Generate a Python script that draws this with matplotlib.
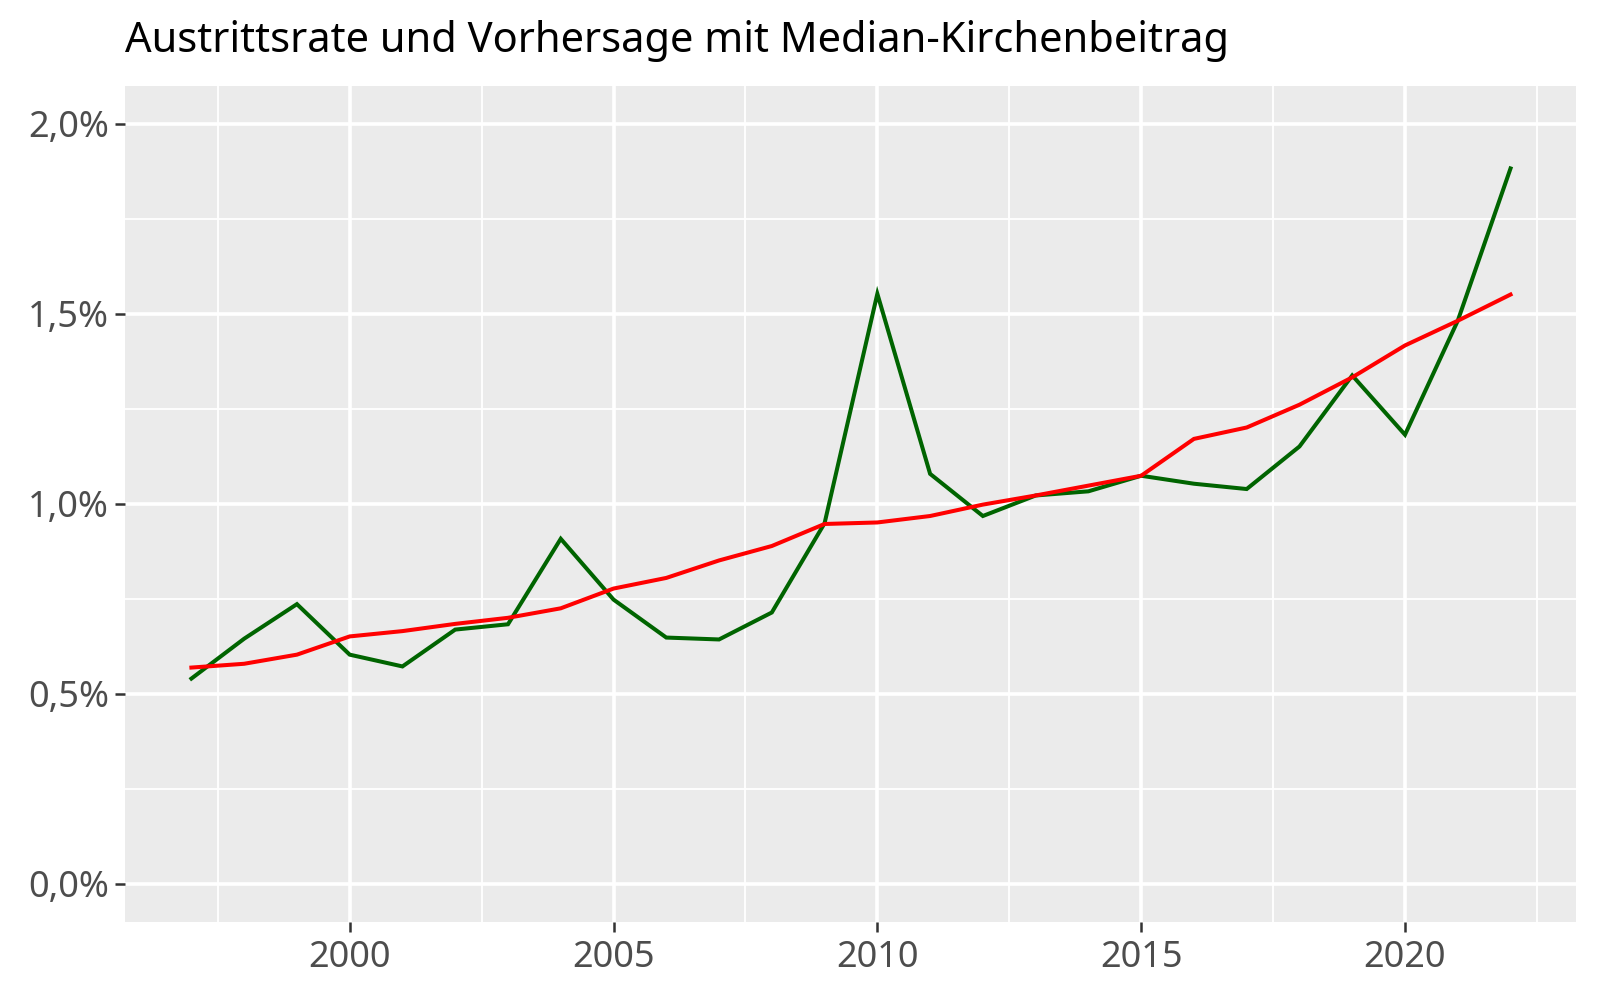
import matplotlib
matplotlib.use("Agg")
import matplotlib.pyplot as plt
from matplotlib.ticker import FixedLocator, FuncFormatter

years = list(range(1997, 2023))
austrittsrate = [0.540, 0.645, 0.736, 0.603, 0.572, 0.669, 0.683, 0.908, 0.748, 0.648,
                 0.643, 0.714, 0.949, 1.553, 1.079, 0.968, 1.022, 1.033, 1.074, 1.053,
                 1.039, 1.151, 1.338, 1.182, 1.482, 1.883]
vorhersage = [0.569, 0.579, 0.603, 0.651, 0.665, 0.684, 0.700, 0.725, 0.777, 0.805,
              0.851, 0.889, 0.947, 0.951, 0.968, 0.998, 1.022, 1.048, 1.074, 1.171,
              1.201, 1.261, 1.333, 1.417, 1.482, 1.551]
title = "Austrittsrate und Vorhersage mit Median-Kirchenbeitrag"
x_major = [2000, 2005, 2010, 2015, 2020]
x_minor = [1997.5, 2002.5, 2007.5, 2012.5, 2017.5, 2022.5]
y_major = [0.0, 0.5, 1.0, 1.5, 2.0]
y_minor = [0.25, 0.75, 1.25, 1.75]

plt.rcParams['font.family'] = ['Noto Sans', 'DejaVu Sans']

fig = plt.figure(figsize=(16, 10), dpi=100)
ax = fig.add_axes([0.0784, 0.0783, 0.9853 - 0.0784, 0.914 - 0.0783])
ax.set_facecolor('#EBEBEB')
for s in ax.spines.values():
    s.set_visible(False)

ax.set_xlim(1995.75, 2023.25)
ax.set_ylim(-0.1, 2.1)
ax.xaxis.set_major_locator(FixedLocator(x_major))
ax.xaxis.set_minor_locator(FixedLocator(x_minor))
ax.yaxis.set_major_locator(FixedLocator(y_major))
ax.yaxis.set_minor_locator(FixedLocator(y_minor))
ax.yaxis.set_major_formatter(FuncFormatter(lambda v, p: f"{v:.1f}".replace('.', ',') + '%'))

ax.grid(which='major', color='white', linewidth=2.6)
ax.grid(which='minor', color='white', linewidth=1.3)
ax.set_axisbelow(True)

ax.tick_params(which='major', length=7, width=1.8, color='#333333',
               labelsize=26, labelcolor='#4D4D4D')
ax.tick_params(axis='x', which='major', pad=6)
ax.tick_params(axis='y', which='major', pad=5)
ax.tick_params(which='minor', length=0)

ax.plot(years, austrittsrate, color='#006400', linewidth=2.9, solid_joinstyle='miter')
ax.plot(years, vorhersage, color='#FF0000', linewidth=2.9, solid_joinstyle='miter')

fig.text(0.0784, 0.959, title, fontsize=30, color='black', ha='left', va='center')

fig.savefig('out.png', dpi=100)
